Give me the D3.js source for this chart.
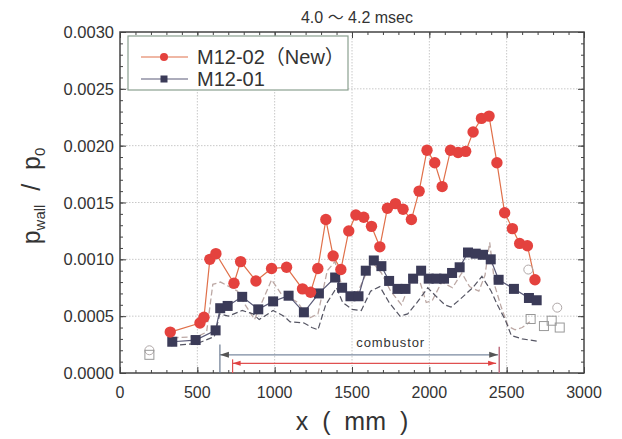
<!DOCTYPE html>
<html>
<head>
<meta charset="utf-8">
<script src="https://cdn.jsdelivr.net/npm/d3@7"></script>
<style>
  body { margin: 0; background: #fff; }
  svg { display: block; }
  text { font-family: "Liberation Sans", Arial, "Noto Sans CJK JP", sans-serif; fill: #333; }
</style>
</head>
<body>
<svg id="chart" width="622" height="439"></svg>
<script>
// M12-02 (New) - red circles
var redX = [325, 517, 543, 581, 620, 737, 780, 879, 980, 1077, 1180, 1232, 1279, 1331, 1378, 1428, 1479, 1525, 1576, 1626, 1680, 1729, 1781, 1830, 1884, 1934, 1985, 2035, 2083, 2137, 2186, 2235, 2283, 2337, 2386, 2437, 2487, 2537, 2584, 2634, 2683];
var redY = [0.00036, 0.00044, 0.00049, 0.00100, 0.00105, 0.00079, 0.00098, 0.00081, 0.00092, 0.00093, 0.00074, 0.00071, 0.00092, 0.00135, 0.00103, 0.00091, 0.00125, 0.00139, 0.00137, 0.00129, 0.00111, 0.00145, 0.00149, 0.00144, 0.00135, 0.00160, 0.00196, 0.00185, 0.00164, 0.00196, 0.00194, 0.00195, 0.00212, 0.00224, 0.00226, 0.00185, 0.00141, 0.00127, 0.00114, 0.00112, 0.00082];

// M12-01 - navy squares
var navyX = [338, 489, 618, 648, 696, 790, 894, 990, 1090, 1189, 1286, 1391, 1436, 1490, 1542, 1589, 1641, 1690, 1740, 1794, 1846, 1895, 1947, 1996, 2046, 2095, 2147, 2196, 2250, 2300, 2347, 2397, 2448, 2547, 2644, 2694];
var navyY = [0.000275, 0.00029, 0.000375, 0.00057, 0.00059, 0.00067, 0.00056, 0.00063, 0.00068, 0.000534, 0.0007, 0.00084, 0.00075, 0.000675, 0.000675, 0.0009, 0.00099, 0.00094, 0.00081, 0.00074, 0.00074, 0.00083, 0.0009, 0.00083, 0.00083, 0.00083, 0.00088, 0.00093, 0.00106, 0.00105, 0.00104, 0.001, 0.00082, 0.00074, 0.00066, 0.00064];

// dashed envelopes (light upper, dark lower)
var upX = [340, 500, 560, 600, 650, 720, 760, 800, 870, 980, 1040, 1100, 1150, 1220, 1280, 1340, 1390, 1440, 1480, 1540, 1600, 1640, 1690, 1750, 1820, 1890, 1940, 1980, 2020, 2080, 2150, 2210, 2260, 2320, 2360, 2390, 2425, 2465, 2510, 2555, 2600, 2650];
var upY = [0.00031, 0.00032, 0.00036, 0.00078, 0.00080, 0.00075, 0.00072, 0.00062, 0.00047, 0.00082, 0.00070, 0.00066, 0.00062, 0.00048, 0.00052, 0.00090, 0.00098, 0.00074, 0.00068, 0.00072, 0.00090, 0.00096, 0.00088, 0.00072, 0.00060, 0.00084, 0.00080, 0.00062, 0.00064, 0.00080, 0.00075, 0.00088, 0.00076, 0.00072, 0.00086, 0.00115, 0.00076, 0.00058, 0.00041, 0.00038, 0.00040, 0.00045];
var lowX = [330, 500, 610, 645, 700, 790, 860, 900, 990, 1060, 1100, 1190, 1240, 1280, 1330, 1400, 1440, 1500, 1560, 1620, 1680, 1740, 1810, 1860, 1920, 1990, 2040, 2100, 2140, 2200, 2280, 2340, 2400, 2440, 2490, 2530, 2600, 2700];
var lowY = [0.00024, 0.00026, 0.00032, 0.00052, 0.00050, 0.00055, 0.00052, 0.00047, 0.00055, 0.00050, 0.00045, 0.00044, 0.00040, 0.00038, 0.00060, 0.00075, 0.00062, 0.00056, 0.00055, 0.00072, 0.00076, 0.00062, 0.00050, 0.00052, 0.00062, 0.00075, 0.00068, 0.00060, 0.00058, 0.00065, 0.00075, 0.00085, 0.00072, 0.00060, 0.00047, 0.00033, 0.00030, 0.00028];

// hollow reference markers
var openCircX = [190, 2640, 2827];
var openCircY = [0.00020, 0.00091, 0.000575];
var openSqX = [190, 2655, 2741, 2791, 2843];
var openSqY = [0.00016, 0.000475, 0.000413, 0.00046, 0.0004];

var xTicks = [0, 500, 1000, 1500, 2000, 2500, 3000];
var yTicks = [0, 0.0005, 0.001, 0.0015, 0.002, 0.0025, 0.003];

var svg = d3.select("#chart");
var pL = 120, pR = 584, pT = 32, pB = 373;

var x = d3.scaleLinear().domain([0, 3000]).range([pL, pR]);
var y = d3.scaleLinear().domain([0, 0.003]).range([pB, pT]);

// grid
var grid = svg.append("g").attr("stroke", "#c8c8c8").attr("stroke-dasharray", "1.5,1.5").attr("stroke-width", 1);
xTicks.slice(1, -1).forEach(function (t) {
  grid.append("line").attr("x1", x(t)).attr("x2", x(t)).attr("y1", pT).attr("y2", pB);
});
yTicks.slice(1, -1).forEach(function (t) {
  grid.append("line").attr("x1", pL).attr("x2", pR).attr("y1", y(t)).attr("y2", y(t));
});

// axes with inward ticks
function inward(axis, minor) {
  return axis.tickSizeInner(minor ? 3 : 6).tickSizeOuter(0).tickPadding(6);
}
var fmtY = d3.format(".4f");
var minorX = d3.range(100, 3000, 100);
var minorY = d3.range(1, 30).map(function (i) { return i * 0.0001; });
svg.append("g").attr("class", "ax").attr("transform", "translate(0," + pB + ")")
  .call(inward(d3.axisTop(x).tickValues(minorX).tickFormat(""), true));
svg.append("g").attr("class", "ax").attr("transform", "translate(0," + pB + ")")
  .call(inward(d3.axisTop(x).tickValues(xTicks).tickFormat(""), false));
svg.append("g").attr("class", "ax").attr("transform", "translate(0," + pT + ")")
  .call(inward(d3.axisBottom(x).tickValues(minorX).tickFormat(""), true));
svg.append("g").attr("class", "ax").attr("transform", "translate(0," + pT + ")")
  .call(inward(d3.axisBottom(x).tickValues(xTicks).tickFormat(""), false));
svg.append("g").attr("class", "ax").attr("transform", "translate(" + pL + ",0)")
  .call(inward(d3.axisRight(y).tickValues(minorY).tickFormat(""), true));
svg.append("g").attr("class", "ax").attr("transform", "translate(" + pL + ",0)")
  .call(inward(d3.axisRight(y).tickValues(yTicks).tickFormat(""), false));
svg.append("g").attr("class", "ax").attr("transform", "translate(" + pR + ",0)")
  .call(inward(d3.axisLeft(y).tickValues(minorY).tickFormat(""), true));
svg.append("g").attr("class", "ax").attr("transform", "translate(" + pR + ",0)")
  .call(inward(d3.axisLeft(y).tickValues(yTicks).tickFormat(""), false));
svg.selectAll(".ax .domain").remove();
svg.selectAll(".ax line").attr("stroke", "#444");

// frame
svg.append("rect").attr("x", pL).attr("y", pT).attr("width", pR - pL).attr("height", pB - pT)
  .attr("fill", "none").attr("stroke", "#444").attr("stroke-width", 1.5);

// tick labels
svg.append("g").selectAll("text").data(xTicks).join("text")
  .attr("x", function (d) { return x(d); }).attr("y", pB + 25)
  .attr("text-anchor", "middle").attr("font-size", 16).attr("fill", "#444").text(function (d) { return d; });
svg.append("g").selectAll("text").data(yTicks).join("text")
  .attr("x", pL - 6).attr("y", function (d) { return y(d) + 6; })
  .attr("text-anchor", "end").attr("font-size", 16.5).attr("fill", "#444").text(function (d) { return fmtY(d); });

// dashed lines
var line = d3.line().x(function (d) { return x(d[0]); }).y(function (d) { return y(d[1]); });
svg.append("path").datum(d3.zip(upX, upY)).attr("d", line)
  .attr("fill", "none").attr("stroke", "#bca8a4").attr("stroke-width", 1.3).attr("stroke-dasharray", "6,3");
svg.append("path").datum(d3.zip(lowX, lowY)).attr("d", line)
  .attr("fill", "none").attr("stroke", "#555563").attr("stroke-width", 1.2).attr("stroke-dasharray", "6,3");

// series lines
svg.append("path").datum(d3.zip(navyX, navyY)).attr("d", line)
  .attr("fill", "none").attr("stroke", "#5a5a78").attr("stroke-width", 1.2);
svg.append("path").datum(d3.zip(redX, redY)).attr("d", line)
  .attr("fill", "none").attr("stroke", "#e0704a").attr("stroke-width", 1.2);

// hollow markers
svg.append("g").selectAll("circle").data(d3.zip(openCircX, openCircY)).join("circle")
  .attr("cx", function (d) { return x(d[0]); }).attr("cy", function (d) { return y(d[1]); }).attr("r", 4.5)
  .attr("fill", "none").attr("stroke", "#b0a8a8").attr("stroke-width", 1);
svg.append("g").selectAll("rect").data(d3.zip(openSqX, openSqY)).join("rect")
  .attr("x", function (d) { return x(d[0]) - 4.5; }).attr("y", function (d) { return y(d[1]) - 4.5; })
  .attr("width", 9).attr("height", 9)
  .attr("fill", "none").attr("stroke", "#999").attr("stroke-width", 1);

// markers
svg.append("g").selectAll("rect").data(d3.zip(navyX, navyY)).join("rect")
  .attr("x", function (d) { return x(d[0]) - 5; }).attr("y", function (d) { return y(d[1]) - 5; })
  .attr("width", 10).attr("height", 10).attr("fill", "#3b3b58");
svg.append("g").selectAll("circle").data(d3.zip(redX, redY)).join("circle")
  .attr("cx", function (d) { return x(d[0]); }).attr("cy", function (d) { return y(d[1]); }).attr("r", 5.7)
  .attr("fill", "#e4423e");

// combustor arrows
var combL = 646, combR = 2445, redL = 728, redR = 2432;
var ann = svg.append("g");
ann.append("line").attr("x1", x(combL)).attr("x2", x(combL)).attr("y1", y(0.00025)).attr("y2", pB).attr("stroke", "#6a7a90").attr("stroke-width", 1.2);
ann.append("line").attr("x1", x(combL)).attr("x2", x(combR)).attr("y1", y(0.00016)).attr("y2", y(0.00016)).attr("stroke", "#7a8aa0").attr("stroke-width", 1.2);
ann.append("path").attr("d", "M" + x(combL) + "," + y(0.00016) + "l9,-3v6z").attr("fill", "#555");
ann.append("path").attr("d", "M" + x(combR) + "," + y(0.00016) + "l-9,-3v6z").attr("fill", "#555");
ann.append("line").attr("x1", x(redL)).attr("x2", x(redL)).attr("y1", y(0.00012)).attr("y2", pB).attr("stroke", "#e05050").attr("stroke-width", 1.2);
ann.append("line").attr("x1", x(redL)).attr("x2", x(redR)).attr("y1", y(0.000085)).attr("y2", y(0.000085)).attr("stroke", "#e05050").attr("stroke-width", 1.2);
ann.append("path").attr("d", "M" + x(redL) + "," + y(0.000085) + "l8,-2.5v5z").attr("fill", "#e04040");
ann.append("path").attr("d", "M" + x(redR) + "," + y(0.000085) + "l-8,-2.5v5z").attr("fill", "#e04040");
ann.append("line").attr("x1", x(2452)).attr("x2", x(2452)).attr("y1", y(0.00023)).attr("y2", pB).attr("stroke", "#c07080").attr("stroke-width", 1.5);
ann.append("text").attr("x", x(1750)).attr("y", y(0.00023)).attr("text-anchor", "middle")
  .attr("font-size", 13).attr("letter-spacing", 0.9).text("combustor");

// legend
var lg = svg.append("g");
lg.append("rect").attr("x", 128).attr("y", 36).attr("width", 220).attr("height", 54)
  .attr("fill", "#fff").attr("stroke", "#8aa090").attr("stroke-width", 1.2);
lg.append("line").attr("x1", 141).attr("x2", 188).attr("y1", 57).attr("y2", 57).attr("stroke", "#e0704a").attr("stroke-width", 1.2);
lg.append("circle").attr("cx", 164).attr("cy", 57).attr("r", 4).attr("fill", "#e4423e");
lg.append("text").attr("x", 197).attr("y", 64).attr("font-size", 20).text("M12-02（New）");
lg.append("line").attr("x1", 141).attr("x2", 188).attr("y1", 79).attr("y2", 79).attr("stroke", "#5a5a78").attr("stroke-width", 1.2);
lg.append("rect").attr("x", 160.5).attr("y", 75.5).attr("width", 7).attr("height", 7).attr("fill", "#3b3b58");
lg.append("text").attr("x", 197).attr("y", 86).attr("font-size", 20).text("M12-01");

// title and axis labels
svg.append("text").attr("x", 357).attr("y", 23).attr("text-anchor", "middle").attr("font-size", 16).text("4.0 〜 4.2 msec");
svg.append("text").attr("x", 352).attr("y", 430).attr("text-anchor", "middle").attr("font-size", 25)
  .attr("xml:space", "preserve").text("x  (  mm  )");
var yl = svg.append("text").attr("transform", "translate(40,196) rotate(-90)").attr("text-anchor", "middle").attr("font-size", 25)
  .attr("xml:space", "preserve");
yl.append("tspan").text("p");
yl.append("tspan").attr("font-size", 15).attr("dy", 5).text("wall");
yl.append("tspan").attr("dy", -5).text("  /  p");
yl.append("tspan").attr("font-size", 15).attr("dy", 5).text("0");
</script>
</body>
</html>
